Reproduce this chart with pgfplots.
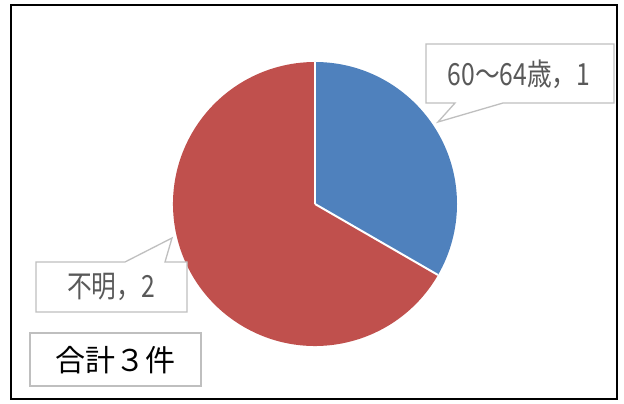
\documentclass[border=0pt]{standalone}
\usepackage{pgfplots}
\pgfplotsset{compat=1.18}
\usepackage{pgfplotstable}
\usepackage{fontspec}
\newfontfamily\jp{Noto Sans CJK JP}
\definecolor{pieblue}{HTML}{4F81BD}
\definecolor{piered}{HTML}{C0504D}
\definecolor{lblgrey}{HTML}{595959}
\definecolor{boxgrey}{HTML}{BFBFBF}
\pgfplotstableread{
label value
A 1
B 2
}\piedata
\begin{document}
\begin{tikzpicture}
\begin{axis}[
  at={(0pt,0pt)}, anchor=origin,
  width=624pt, height=404pt, scale only axis,
  xmin=0, xmax=624, ymin=0, ymax=404,
  hide axis, clip=false,
]
% values
\pgfplotstablegetelem{0}{value}\of\piedata \edef\va{\pgfplotsretval}
\pgfplotstablegetelem{1}{value}\of\piedata \edef\vb{\pgfplotsretval}
\pgfmathsetmacro{\tot}{\va+\vb}
\pgfmathsetmacro{\angA}{90-360*\va/\tot}
\pgfmathsetmacro{\angB}{\angA-360*\vb/\tot}
% background and frame
\fill[white] (axis cs:0,0) rectangle (axis cs:624,404);
\draw[black, line width=2pt] (axis cs:11,5) rectangle (axis cs:617,399);
% slices
\fill[pieblue] (axis cs:315,200) -- ++(90:142pt) arc[start angle=90, end angle=\angA, radius=142pt] -- cycle;
\fill[piered] (axis cs:315,200) -- ++(\angA:142pt) arc[start angle=\angA, end angle=\angB, radius=142pt] -- cycle;
\draw[white, line width=2pt] (axis cs:315,200) -- ++(90:142pt);
\draw[white, line width=2pt] (axis cs:315,200) -- ++(\angA:142pt);
% callout 1
\draw[boxgrey, fill=white, line width=1.3pt, line join=miter]
  (axis cs:426,360) -- (axis cs:614,360) -- (axis cs:614,301) -- (axis cs:503,301)
  -- (axis cs:438,282) -- (axis cs:455,301) -- (axis cs:426,301) -- cycle;
\node[text=lblgrey, font=\jp\fontsize{30.5}{32}\selectfont, inner sep=0pt] at (axis cs:519,330)
  {\scalebox{0.81}[1]{60～64歳，1}};
% callout 2
\draw[boxgrey, fill=white, line width=1.3pt, line join=miter]
  (axis cs:36,142) -- (axis cs:125,142) -- (axis cs:172,166) -- (axis cs:165,142)
  -- (axis cs:187,142) -- (axis cs:187,92) -- (axis cs:36,92) -- cycle;
\node[text=lblgrey, font=\jp\fontsize{30.5}{32}\selectfont, inner sep=0pt] at (axis cs:111,117)
  {\scalebox{0.81}[1]{不明，2}};
% total box
\draw[boxgrey, fill=white, line width=1.3pt] (axis cs:30,71) rectangle (axis cs:201,18);
\node[text=black, font=\jp\fontsize{30}{32}\selectfont, inner sep=0pt] at (axis cs:115,44)
  {合計３件};
\end{axis}
\useasboundingbox (0pt,0pt) rectangle (624pt,404pt);
\end{tikzpicture}
\end{document}
